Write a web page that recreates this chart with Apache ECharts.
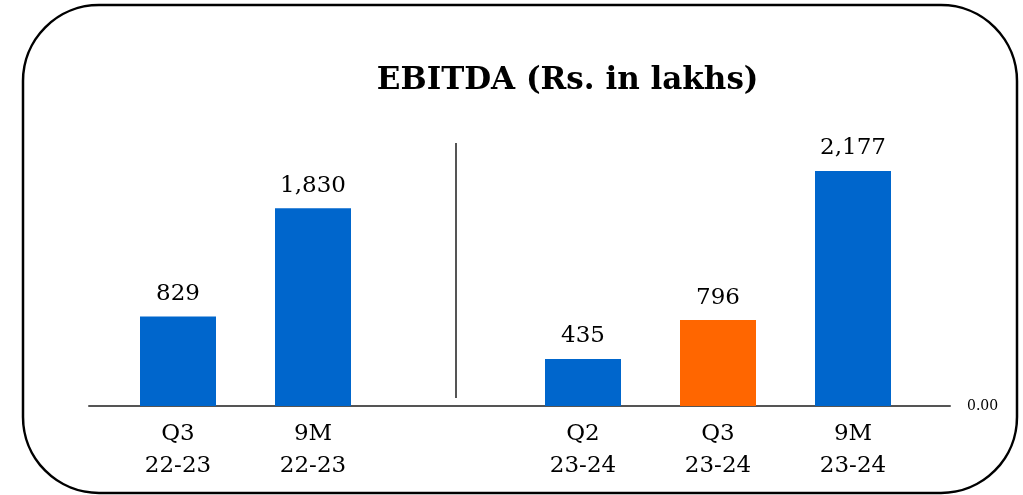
<!DOCTYPE html>
<html>
<head>
    <meta charset="utf-8">
    <title>EBITDA</title>
    <script src="https://cdn.jsdelivr.net/npm/echarts@6/dist/echarts.min.js"></script>
    <style>
        html, body { margin: 0; padding: 0; background: #fff; }
    </style>
</head>
<body>
<div id="main" style="width: 1023px;height:495px;"></div>
<script>
// data, '' is the empty gap between the two groups
var categories = ['Q3\n22-23', '9M\n22-23', '', 'Q2\n23-24', 'Q3\n23-24', '9M\n23-24'];
var ebitda = [829, 1830, null, 435, 796, 2177];
var barColors = ['#0066CC', '#0066CC', '#0066CC', '#0066CC', '#FF6600', '#0066CC'];
var baseTick = [0];

var serif = 'DejaVu Serif';

option = {
    animation: false,
    backgroundColor: '#fff',
    title: {
        text: 'EBITDA (Rs. in lakhs)',
        left: '55%',
        top: 60,
        textAlign: 'center',
        textStyle: {
            fontFamily: serif,
            fontWeight: 'bold',
            fontSize: 31,
            color: '#000'
        }
    },
    grid: [
        {left: 110.5, right: 102.5, top: 136, bottom: 89},
        {left: 89, right: 73, top: 136, bottom: 89}
    ],
    xAxis: [
        {
            type: 'category',
            gridIndex: 0,
            data: categories,
            axisLine: {show: false},
            axisTick: {show: false},
            axisLabel: {
                fontFamily: serif,
                fontSize: 23,
                lineHeight: 32,
                color: '#000',
                margin: 12,
                interval: 0
            }
        },
        {
            // only used for the long base line
            type: 'value',
            gridIndex: 1,
            min: 0,
            max: 1,
            axisLine: {show: true, lineStyle: {color: '#555', width: 2}},
            axisTick: {show: false},
            axisLabel: {show: false},
            splitLine: {show: false}
        }
    ],
    yAxis: [
        {
            type: 'value',
            gridIndex: 0,
            min: 0,
            max: 2500,
            show: false
        },
        {
            type: 'value',
            gridIndex: 1,
            position: 'right',
            min: 0,
            max: 2500,
            interval: 2500,
            axisLine: {show: false},
            axisTick: {show: false},
            splitLine: {show: false},
            axisLabel: {
                margin: 17,
                fontFamily: serif,
                fontSize: 14,
                color: '#000',
                formatter: function (v) {
                    return baseTick.indexOf(v) >= 0 ? v.toFixed(2) : '';
                }
            }
        }
    ],
    series: [
        {
            type: 'bar',
            xAxisIndex: 0,
            yAxisIndex: 0,
            barWidth: 76,
            data: ebitda.map(function (v, i) {
                return {value: v, itemStyle: {color: barColors[i]}};
            }),
            label: {
                show: true,
                position: 'top',
                distance: 11,
                fontFamily: serif,
                fontSize: 23,
                color: '#000',
                formatter: function (p) {
                    return p.value == null ? '' : p.value.toLocaleString('en-US');
                }
            }
        }
    ],
    graphic: [
        {
            // rounded frame around the whole chart
            type: 'rect',
            shape: {x: 23, y: 5, width: 994, height: 488, r: 76},
            style: {fill: 'none', stroke: '#000', lineWidth: 2.5},
            silent: true
        },
        {
            // divider between the two years
            type: 'line',
            shape: {x1: 456, y1: 143, x2: 456, y2: 398},
            style: {stroke: '#555', lineWidth: 2},
            silent: true
        }
    ]
};

var myChart = echarts.init(document.getElementById('main'));
myChart.setOption(option);
</script>
</body>
</html>
